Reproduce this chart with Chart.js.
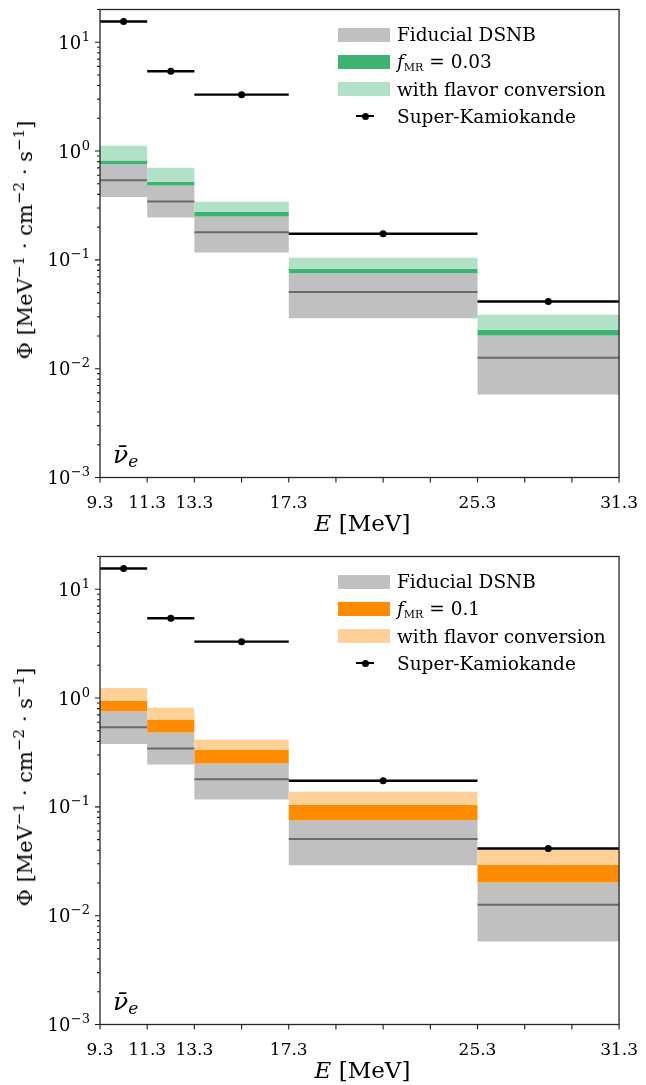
<!DOCTYPE html>
<html><head><meta charset="utf-8">
<script src="https://cdn.jsdelivr.net/npm/chart.js@4.4.1/dist/chart.umd.min.js"></script>
<style>
html,body{margin:0;padding:0;background:#fff;}
body{width:646px;height:1085px;position:relative;overflow:hidden;font-family:'DejaVu Serif',serif;color:#000;}
.panel{position:absolute;left:0;width:646px;}
.panel canvas{position:absolute;left:0;top:0;}
.ytitle{position:absolute;left:25px;top:240px;transform:translate(-50%,-50%) rotate(-90deg);white-space:nowrap;font-size:21px;}
.ytitle sup{font-size:0.72em;vertical-align:0.55em;line-height:0;}
.xtitle{position:absolute;left:362.5px;top:523px;transform:translate(-50%,-50%);white-space:nowrap;font-size:23px;}
.nu{position:absolute;left:113px;top:440px;font-size:25px;font-style:italic;line-height:30px;}
.nu sub{font-size:17px;vertical-align:-4px;}
.leg{position:absolute;left:338px;top:0;font-size:18.5px;}
.sw{position:absolute;left:0;width:52px;height:14px;}
.lt{position:absolute;left:59px;white-space:nowrap;line-height:22px;}
.lt .sub{font-size:11px;vertical-align:-3px;}
.skl{position:absolute;left:18px;width:18px;height:2px;background:#000;}
.skd{position:absolute;left:24px;width:7px;height:7px;border-radius:50%;background:#000;}
</style>
</head><body>
<div class="panel" id="p1" style="top:0;height:540px;">
  <canvas id="c1" width="646" height="540"></canvas>
  <div class="ytitle">Φ [MeV<sup>−1</sup> · cm<sup>−2</sup> · s<sup>−1</sup>]</div>
  <div class="xtitle"><i>E</i> [MeV]</div>
  <div class="nu">ν̄<sub>e</sub></div>
  <div class="leg">
    <div class="sw" style="top:27.7px;background:#c0c0c0"></div>
    <div class="lt" style="top:24px">Fiducial DSNB</div>
    <div class="sw" style="top:54.5px;background:#3cb371"></div>
    <div class="lt" style="top:51px"><i>f</i><span class="sub">MR</span> = 0.03</div>
    <div class="sw" style="top:82px;background:#b1e1c6"></div>
    <div class="lt" style="top:78.5px">with flavor conversion</div>
    <div class="skl" style="top:115px"></div><div class="skd" style="top:112.5px"></div>
    <div class="lt" style="top:105.5px">Super-Kamiokande</div>
  </div>
</div>
<div class="panel" id="p2" style="top:547px;height:538px;">
  <canvas id="c2" width="646" height="538"></canvas>
  <div class="ytitle">Φ [MeV<sup>−1</sup> · cm<sup>−2</sup> · s<sup>−1</sup>]</div>
  <div class="xtitle"><i>E</i> [MeV]</div>
  <div class="nu">ν̄<sub>e</sub></div>
  <div class="leg">
    <div class="sw" style="top:27.7px;background:#c0c0c0"></div>
    <div class="lt" style="top:24px">Fiducial DSNB</div>
    <div class="sw" style="top:54.5px;background:#ff8c00"></div>
    <div class="lt" style="top:51px"><i>f</i><span class="sub">MR</span> = 0.1</div>
    <div class="sw" style="top:82px;background:#ffd199"></div>
    <div class="lt" style="top:78.5px">with flavor conversion</div>
    <div class="skl" style="top:115px"></div><div class="skd" style="top:112.5px"></div>
    <div class="lt" style="top:105.5px">Super-Kamiokande</div>
  </div>
</div>
<script>
// ---- data ----
const binEdges = [9.3, 11.3, 13.3, 17.3, 25.3, 31.3];
const xTickPositions = [9.3, 11.3, 13.3, 15.3, 17.3, 19.3, 21.3, 23.3, 25.3, 27.3, 29.3, 31.3];
const xTickLabels = ['9.3', '11.3', '13.3', '', '17.3', '', '', '', '25.3', '', '', '31.3'];
const yMajorTicks = [1e-3, 1e-2, 1e-1, 1, 10];
const yTickBase = '10';
const yTickExponents = ['\u22123', '\u22122', '\u22121', '0', '1'];
const yMinorMultipliers = [2, 3, 4, 5, 6, 7, 8, 9];

const fiducialLow = [0.378, 0.245, 0.117, 0.029, 0.0058];
const fiducialMedian = [0.54, 0.344, 0.179, 0.0506, 0.0126];
const fiducialHigh = [0.755, 0.483, 0.25, 0.0755, 0.0202];

const mr003High = [0.817, 0.523, 0.277, 0.0828, 0.0228];
const mr003Flavor = [1.12, 0.703, 0.342, 0.1045, 0.0313];

const mr01High = [0.944, 0.631, 0.335, 0.1045, 0.0294];
const mr01Flavor = [1.24, 0.815, 0.414, 0.138, 0.0408];

const skCenters = [10.3, 12.3, 15.3, 21.3, 28.3];
const skFlux = [15.5, 5.41, 3.30, 0.174, 0.0414];

// ---- helpers ----
const stepPts = arr => binEdges.map((x, i) => ({x, y: arr[Math.min(i, arr.length - 1)]}));
const segPts = arr => {
  const out = [];
  arr.forEach((v, i) => {
    out.push({x: binEdges[i], y: v}, {x: binEdges[i + 1], y: v}, {x: binEdges[i + 1], y: null});
  });
  return out;
};

const frameTicks = {
  id: 'frameTicks',
  afterDraw(chart) {
    const {ctx, chartArea: a, scales: {x, y}} = chart;
    ctx.save();
    ctx.strokeStyle = '#1a1a1a';
    ctx.lineWidth = 1.1;
    ctx.beginPath();
    x.ticks.forEach(t => {
      const px = x.getPixelForValue(t.value);
      ctx.moveTo(px, a.bottom); ctx.lineTo(px, a.bottom + 5);
    });
    y.ticks.forEach(t => {
      const py = y.getPixelForValue(t.value);
      const lg = Math.log10(t.value);
      const len = Math.abs(lg - Math.round(lg)) < 1e-6 ? 5 : 3;
      ctx.moveTo(a.left, py); ctx.lineTo(a.left - len, py);
    });
    ctx.stroke();
    ctx.strokeStyle = '#262626';
    ctx.lineWidth = 1.3;
    ctx.strokeRect(a.left, a.top, a.right - a.left, a.bottom - a.top);

    // y tick labels: base with raised exponent, positioned by the log scale
    ctx.fillStyle = '#000';
    ctx.textBaseline = 'alphabetic';
    ctx.textAlign = 'left';
    const right = a.left - 10;
    yMajorTicks.forEach((v, i) => {
      const py = y.getPixelForValue(v);
      ctx.font = '13px "DejaVu Serif"';
      const w2 = ctx.measureText(yTickExponents[i]).width;
      ctx.font = '18px "DejaVu Serif"';
      const w1 = ctx.measureText(yTickBase).width;
      const x0 = right - w2 - w1 - 0.5;
      ctx.fillText(yTickBase, x0, py + 6.5);
      ctx.font = '13px "DejaVu Serif"';
      ctx.fillText(yTickExponents[i], x0 + w1 + 0.5, py - 1.5);
    });
    ctx.restore();
  }
};

function makeChart(id, H, high, flavor, col, light) {
  return new Chart(document.getElementById(id), {
    type: 'line',
    data: {
      datasets: [
        {data: stepPts(fiducialLow), stepped: true, borderWidth: 0, fill: false, order: 10},
        {data: stepPts(fiducialHigh), stepped: true, borderWidth: 0, fill: '-1', backgroundColor: '#c0c0c0', order: 9},
        {data: stepPts(high), stepped: true, borderWidth: 0, fill: '-1', backgroundColor: col, order: 8},
        {data: stepPts(flavor), stepped: true, borderWidth: 0, fill: '-1', backgroundColor: light, order: 7},
        {data: segPts(fiducialMedian), borderColor: '#6a6a6a', borderWidth: 2, fill: false, order: 2},
        {data: segPts(skFlux), borderColor: '#000', borderWidth: 2.4, fill: false, order: 1},
        {data: skCenters.map((x, i) => ({x, y: skFlux[i]})), showLine: false, pointRadius: 3.5,
         pointBackgroundColor: '#000', pointBorderWidth: 0, order: 0}
      ]
    },
    options: {
      responsive: false, animation: false, devicePixelRatio: 1,
      layout: {padding: {left: 0, right: 21, top: 9.5, bottom: 0}},
      elements: {point: {radius: 0}, line: {tension: 0}},
      plugins: {legend: {display: false}, tooltip: {enabled: false}},
      scales: {
        x: {
          type: 'linear', min: 9.3, max: 31.3,
          grid: {display: false}, border: {display: false},
          afterBuildTicks: s => { s.ticks = xTickPositions.map(v => ({value: v})); },
          ticks: {autoSkip: false, maxRotation: 0, padding: 8, color: '#000',
                  font: {family: 'DejaVu Serif', size: 17},
                  callback: (v, i) => xTickLabels[i]},
          afterFit: s => { s.height = H - 477.5; }
        },
        y: {
          type: 'logarithmic', min: 1e-3, max: 20,
          grid: {display: false}, border: {display: false},
          afterBuildTicks: s => {
            const t = [];
            yMajorTicks.forEach(m => {
              t.push({value: m});
              yMinorMultipliers.forEach(k => { if (m * k <= 20) t.push({value: m * k}); });
            });
            s.ticks = t;
          },
          ticks: {display: false},
          afterFit: s => { s.width = 100; }
        }
      }
    },
    plugins: [frameTicks]
  });
}

makeChart('c1', 540, mr003High, mr003Flavor, '#3cb371', '#b1e1c6');
makeChart('c2', 538, mr01High, mr01Flavor, '#ff8c00', '#ffd199');
</script>
</body></html>
